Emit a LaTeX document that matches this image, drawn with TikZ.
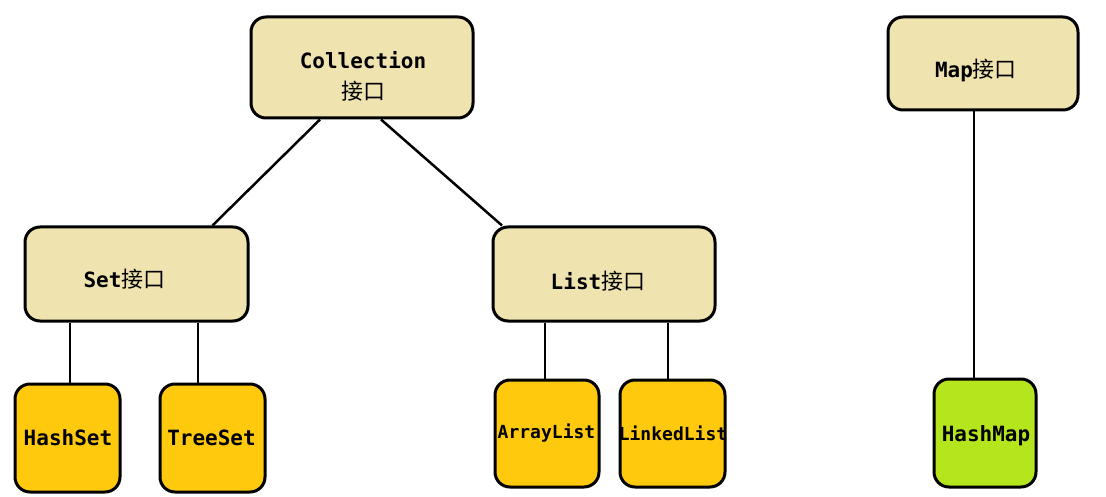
\documentclass[tikz,border=0pt]{standalone}
\usepackage{fontspec}
\setmonofont{DejaVu Sans Mono}
\newfontfamily\cjk{Noto Sans CJK SC}
\newcommand{\jiekou}{{\cjk\mdseries\fontsize{22}{31}\selectfont 接口}}
\definecolor{beige}{HTML}{EFE4B0}
\definecolor{amber}{HTML}{FFC90E}
\definecolor{lime}{HTML}{B5E61D}
\begin{document}
\begin{tikzpicture}[x=1pt,y=-1pt,
  box/.style={draw=black,line width=3pt,rounded corners=15pt,inner sep=0pt},
  iface/.style={box,fill=beige},
  impl/.style={box,fill=amber},
  mapimpl/.style={box,fill=lime},
  txt/.style={align=center,inner sep=0pt,font=\ttfamily\bfseries\fontsize{21}{31}\selectfont},
  smalltxt/.style={txt,font=\ttfamily\bfseries\fontsize{18}{20}\selectfont},
  conn/.style={line width=2.5pt}]
\useasboundingbox (0,0) rectangle (1106,497);
\node[iface,minimum width=222pt,minimum height=101pt] (coll) at (362,67.5) {};
\node[iface,minimum width=190pt,minimum height=93pt] (map) at (983,63.5) {};
\node[iface,minimum width=223pt,minimum height=94pt] (set) at (136.5,274) {};
\node[iface,minimum width=222pt,minimum height=94pt] (list) at (604,274) {};
\node[impl,minimum width=105pt,minimum height=108pt] (hs) at (67.5,438) {};
\node[impl,minimum width=105pt,minimum height=108pt] (ts) at (212.5,438) {};
\node[impl,minimum width=104pt,minimum height=107pt] (al) at (547,433.5) {};
\node[impl,minimum width=105pt,minimum height=107pt] (ll) at (672.5,433.5) {};
\node[mapimpl,minimum width=102pt,minimum height=108pt] (hm) at (985,433) {};
\node[txt] (collT) at (363,76) {Collection\\\jiekou};
\node[txt] (mapT) at (976,70) {Map\jiekou};
\node[txt] (setT) at (124.5,279.5) {Set\jiekou};
\node[txt] (listT) at (598,281.5) {List\jiekou};
\node[txt] (hsT) at (68,438) {HashSet};
\node[txt] (tsT) at (211.5,438) {TreeSet};
\node[smalltxt] (alT) at (546.5,433) {ArrayList};
\node[smalltxt] (llT) at (673,433) {LinkedList};
\node[txt] (hmT) at (986,436) {HashMap};
\draw[conn] ([xshift=-42pt]coll.south) -- ([xshift=76pt]set.north);
\draw[conn] ([xshift=19pt]coll.south) -- ([xshift=-102pt]list.north);
\draw[conn] ([xshift=2.5pt]hs.north) -- ([xshift=2.5pt]hs.north |- set.south);
\draw[conn] ([xshift=-14.5pt]ts.north) -- ([xshift=-14.5pt]ts.north |- set.south);
\draw[conn] ([xshift=-2pt]al.north) -- ([xshift=-2pt]al.north |- list.south);
\draw[conn] ([xshift=-4.5pt]ll.north) -- ([xshift=-4.5pt]ll.north |- list.south);
\draw[conn] ([xshift=-11pt]hm.north) -- ([xshift=-11pt]hm.north |- map.south);
\end{tikzpicture}
\end{document}
